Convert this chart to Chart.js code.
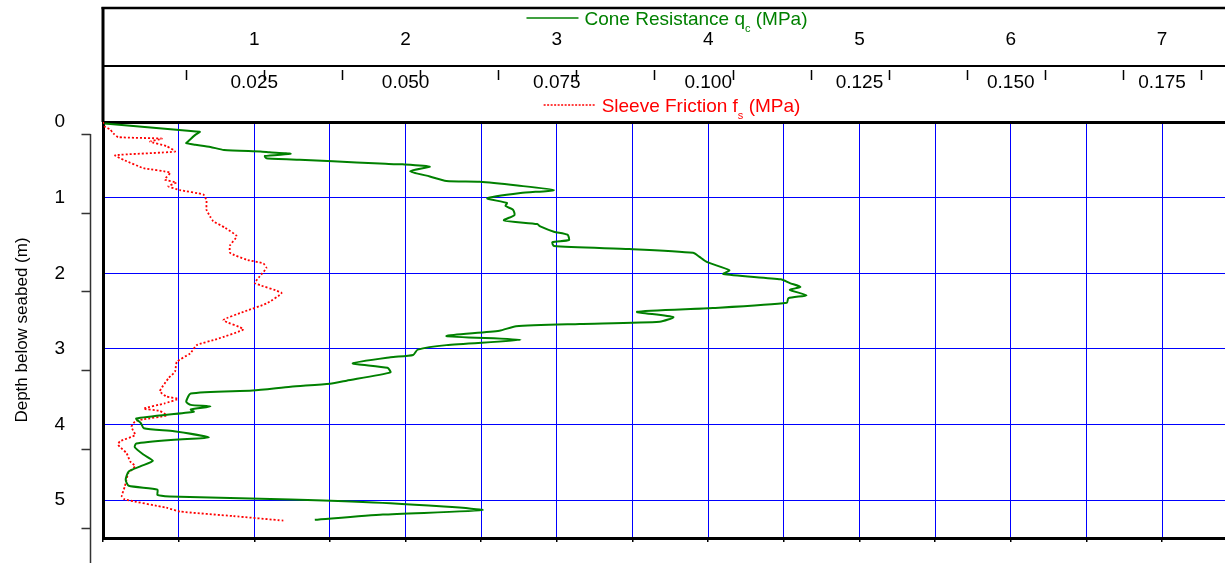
<!DOCTYPE html>
<html lang="en">

<head>
    <meta charset="UTF-8">
    <title>CPT Log</title>
    <style>
        html,
        body {
            margin: 0;
            padding: 0;
            background: #ffffff;
            overflow: hidden;
        }

        canvas {
            display: block;
        }
    </style>
</head>

<body>

    <canvas id="cptChart" width="1225" height="563"></canvas>

    <script src="https://cdn.jsdelivr.net/npm/chart.js"></script>
    <script>
        // Cone resistance qc (MPa) against depth (m)
        const qcDepth = [0.02, 0.12, 0.13, 0.17, 0.26, 0.28, 0.30, 0.33, 0.37, 0.39, 0.40, 0.42, 0.45, 0.48, 0.50, 0.52, 0.55, 0.56, 0.59, 0.65,
            0.72, 0.78, 0.79, 0.84, 0.90, 0.94, 1.01, 1.07, 1.11, 1.16, 1.23, 1.30, 1.35, 1.38, 1.45, 1.49, 1.56, 1.59, 1.64, 1.68,
            1.73, 1.78, 1.85, 1.96, 2.01, 2.08, 2.13, 2.18, 2.22, 2.29, 2.33, 2.39, 2.46, 2.51, 2.58, 2.64, 2.67, 2.70, 2.76, 2.83,
            2.88, 2.95, 3.01, 3.08, 3.11, 3.19, 3.25, 3.31, 3.42, 3.46, 3.50, 3.55, 3.59, 3.70, 3.74, 3.76, 3.80, 3.83, 3.92, 3.98,
            4.05, 4.09, 4.17, 4.20, 4.25, 4.30, 4.40, 4.48, 4.55, 4.62, 4.73, 4.81, 4.86, 4.93, 4.95, 4.99, 5.04, 5.13, 5.19, 5.26];
        const qcValue = [0.01, 0.58, 0.64, 0.61, 0.56, 0.55, 0.61, 0.71, 0.80, 1.04, 1.10, 1.24, 1.07, 1.08, 1.30, 1.52, 1.83, 1.98, 2.16, 2.03,
            2.16, 2.27, 2.49, 2.74, 2.98, 2.76, 2.54, 2.67, 2.66, 2.71, 2.72, 2.65, 2.87, 2.89, 2.98, 3.07, 3.08, 2.97, 2.98, 3.48,
            3.90, 3.94, 3.99, 4.14, 4.10, 4.48, 4.54, 4.61, 4.54, 4.65, 4.53, 4.52, 4.03, 3.53, 3.77, 3.68, 3.15, 2.73, 2.62, 2.27,
            2.76, 2.27, 2.08, 2.05, 1.90, 1.65, 1.88, 1.90, 1.61, 1.50, 1.24, 0.99, 0.58, 0.55, 0.58, 0.71, 0.58, 0.60, 0.22, 0.25,
            0.27, 0.47, 0.70, 0.47, 0.22, 0.21, 0.27, 0.33, 0.25, 0.17, 0.15, 0.17, 0.36, 0.36, 0.44, 1.24, 1.90, 2.51, 1.85, 1.40];

        // Sleeve friction fs (MPa) against depth (m)
        const fsDepth = [0, 0.06, 0.10, 0.15, 0.20, 0.22, 0.26, 0.32, 0.39, 0.44, 0.50, 0.61, 0.67, 0.76, 0.80, 0.85, 0.90, 0.96, 1.04, 1.16,
            1.25, 1.31, 1.40, 1.51, 1.63, 1.73, 1.82, 1.87, 1.93, 2.04, 2.13, 2.26, 2.40, 2.51, 2.62, 2.74, 2.87, 2.95, 3.06, 3.17,
            3.30, 3.39, 3.56, 3.63, 3.66, 3.72, 3.79, 3.82, 3.88, 3.93, 3.96, 4.03, 4.14, 4.22, 4.27, 4.38, 4.49, 4.55, 4.64, 4.82,
            4.95, 4.99, 5.10, 5.15, 5.21, 5.27];
        const fsValue = [0, 0.0003, 0.0012, 0.0017, 0.0025, 0.0097, 0.0078, 0.0105, 0.0119, 0.0020, 0.0034, 0.0067, 0.0111, 0.0102, 0.0121, 0.0108, 0.0127, 0.0166, 0.0171, 0.0171,
            0.0177, 0.0182, 0.0202, 0.0221, 0.0210, 0.0210, 0.0237, 0.0265, 0.0270, 0.0259, 0.0251, 0.0295, 0.0270, 0.0232, 0.0199, 0.0232, 0.0188, 0.0155, 0.0144, 0.0122,
            0.0119, 0.0108, 0.0094, 0.0105, 0.0124, 0.0102, 0.0067, 0.0094, 0.0105, 0.0067, 0.0053, 0.0047, 0.0053, 0.0028, 0.0025, 0.0039, 0.0045, 0.0053, 0.0042, 0.0036,
            0.0031, 0.0036, 0.0105, 0.0127, 0.0215, 0.0298];

        // tick labels
        const qcTicks = [1, 2, 3, 4, 5, 6, 7];
        const fsTicks = ['0.025', '0.050', '0.075', '0.100', '0.125', '0.150', '0.175'];
        const depthTicks = [0, 1, 2, 3, 4, 5];

        const QC_MAX = 7.416;
        const FS_MAX = QC_MAX * 0.025;
        const DEPTH_MAX = 5.5;
        const FONT = '"Liberation Sans", Arial, sans-serif';

        Chart.defaults.font.family = FONT;
        Chart.defaults.color = '#000';

        function drawTitle(ctx, cx, baseY, main, sub, rest, color, dash) {
            const big = '19px ' + FONT;
            const small = '11px ' + FONT;
            ctx.font = big;
            const w1 = ctx.measureText(main).width;
            const w3 = ctx.measureText(rest).width;
            ctx.font = small;
            const w2 = ctx.measureText(sub).width;
            const sample = 52, gap = 6;
            let x = cx - (sample + gap + w1 + w2 + w3) / 2;

            ctx.strokeStyle = color;
            ctx.lineWidth = 1.3;
            ctx.setLineDash(dash || []);
            ctx.beginPath();
            ctx.moveTo(x, baseY - 7);
            ctx.lineTo(x + sample, baseY - 7);
            ctx.stroke();
            ctx.setLineDash([]);
            x += sample + gap;

            ctx.fillStyle = color;
            ctx.textAlign = 'left';
            ctx.textBaseline = 'alphabetic';
            ctx.font = big;
            ctx.fillText(main, x, baseY);
            x += w1;
            ctx.font = small;
            ctx.fillText(sub, x, baseY + 7);
            x += w2;
            ctx.font = big;
            ctx.fillText(rest, x, baseY);
        }

        // header frame, odd tick marks, depth axis line, axis titles
        const framePlugin = {
            id: 'frame',
            afterDraw(chart) {
                const { ctx, chartArea: a, scales } = chart;
                const qc = scales.x, fs = scales.x2, xt = scales.xt, yt = scales.yt;
                ctx.save();

                ctx.strokeStyle = '#000';
                ctx.lineWidth = 2.5;
                ctx.beginPath();
                ctx.moveTo(a.left - 1.5, qc.top + 1);
                ctx.lineTo(a.right, qc.top + 1);
                ctx.stroke();
                ctx.lineWidth = 3;
                ctx.beginPath();
                ctx.moveTo(a.left, qc.top);
                ctx.lineTo(a.left, a.top);
                ctx.stroke();

                ctx.lineWidth = 1.5;
                ctx.beginPath();
                for (let k = 0; k <= xt.max; k++) {
                    const px = Math.round(xt.getPixelForValue(k)) + 0.5;
                    ctx.moveTo(px, fs.top + 4);
                    ctx.lineTo(px, fs.top + 14);
                }
                ctx.stroke();

                const lx = a.left - 12.5;
                ctx.strokeStyle = '#333';
                ctx.lineWidth = 1.5;
                ctx.beginPath();
                ctx.moveTo(lx, yt.getPixelForValue(0));
                ctx.lineTo(lx, chart.height);
                for (let k = 0; k <= yt.max; k++) {
                    const py = Math.round(yt.getPixelForValue(k)) + 0.5;
                    ctx.moveTo(lx - 9, py);
                    ctx.lineTo(lx, py);
                }
                ctx.stroke();

                const cx = (a.left + a.right) / 2 + 3;
                drawTitle(ctx, cx, qc.top + 18, 'Cone Resistance q', 'c', ' (MPa)', '#008000');
                drawTitle(ctx, cx + 5, a.top - 10, 'Sleeve Friction f', 's', ' (MPa)', '#ff0000', [2, 1.5]);

                ctx.restore();
            }
        };

        const ctx = document.getElementById('cptChart').getContext('2d');

        const cptChart = new Chart(ctx, {
            type: 'scatter',
            data: {
                datasets: [{
                    label: 'Cone Resistance qc (MPa)',
                    data: qcDepth.map((d, i) => ({ x: qcValue[i], y: d })),
                    xAxisID: 'x',
                    yAxisID: 'y',
                    showLine: true,
                    borderColor: '#008000',
                    borderWidth: 2,
                    pointRadius: 0,
                    tension: 0.2
                }, {
                    label: 'Sleeve Friction fs (MPa)',
                    data: fsDepth.map((d, i) => ({ x: fsValue[i], y: d })),
                    xAxisID: 'x2',
                    yAxisID: 'y',
                    showLine: true,
                    borderColor: '#ff0000',
                    borderWidth: 1.8,
                    borderDash: [2, 2],
                    pointRadius: 0,
                    tension: 0.15
                }]
            },
            options: {
                responsive: false,
                animation: false,
                layout: {
                    padding: { top: 7, left: 0, right: 0, bottom: 0 }
                },
                plugins: {
                    legend: { display: false },
                    tooltip: { enabled: false }
                },
                scales: {
                    x: {
                        type: 'linear',
                        position: 'top',
                        weight: 1,
                        min: 0,
                        max: QC_MAX,
                        ticks: {
                            stepSize: 0.5,
                            includeBounds: false,
                            autoSkip: false,
                            maxRotation: 0,
                            padding: 15,
                            font: { size: 19 },
                            callback: v => qcTicks.includes(v) ? String(v) : ''
                        },
                        grid: {
                            color: '#0000ff',
                            lineWidth: 1,
                            drawTicks: false
                        },
                        border: { display: true, color: '#000', width: 2 },
                        afterFit: s => { s.height = 59; }
                    },
                    x2: {
                        type: 'linear',
                        position: 'top',
                        weight: 0,
                        min: 0,
                        max: FS_MAX,
                        ticks: {
                            stepSize: 0.025,
                            includeBounds: false,
                            autoSkip: false,
                            maxRotation: 0,
                            padding: 28,
                            font: { size: 19 },
                            callback: v => {
                                const k = Math.round(v / 0.025);
                                return k >= 1 && k <= fsTicks.length ? fsTicks[k - 1] : '';
                            }
                        },
                        grid: { drawOnChartArea: false, drawTicks: false },
                        border: { display: true, color: '#000', width: 3 },
                        afterFit: s => { s.height = 56; }
                    },
                    xt: {
                        type: 'linear',
                        position: 'top',
                        weight: 2,
                        display: false,
                        min: -1.063,
                        max: 13.307
                    },
                    xb: {
                        type: 'linear',
                        position: 'bottom',
                        min: 0,
                        max: QC_MAX,
                        ticks: { stepSize: 0.5, includeBounds: false, display: false },
                        grid: {
                            drawOnChartArea: false,
                            drawTicks: true,
                            tickLength: 4,
                            color: '#000',
                            lineWidth: 1.5
                        },
                        border: { display: true, color: '#000', width: 3 },
                        afterFit: s => { s.height = 25; }
                    },
                    y: {
                        type: 'linear',
                        position: 'left',
                        weight: 1,
                        reverse: true,
                        min: 0,
                        max: DEPTH_MAX,
                        ticks: {
                            stepSize: 1,
                            includeBounds: false,
                            padding: 0,
                            font: { size: 19 },
                            callback: v => depthTicks.includes(v) ? String(v) : ''
                        },
                        grid: {
                            color: '#0000ff',
                            lineWidth: 1,
                            drawTicks: true,
                            tickLength: 38,
                            tickColor: 'rgba(0,0,0,0)'
                        },
                        border: { display: true, color: '#000', width: 3 },
                        title: {
                            display: true,
                            text: 'Depth below seabed (m)',
                            font: { size: 17 },
                            padding: { top: 12, bottom: 0 }
                        },
                        afterFit: s => { s.width = 103; }
                    },
                    yt: {
                        type: 'linear',
                        position: 'left',
                        weight: 0,
                        display: false,
                        reverse: true,
                        min: -0.1525,
                        max: 5.133
                    }
                }
            },
            plugins: [framePlugin]
        });
    </script>
</body>

</html>
